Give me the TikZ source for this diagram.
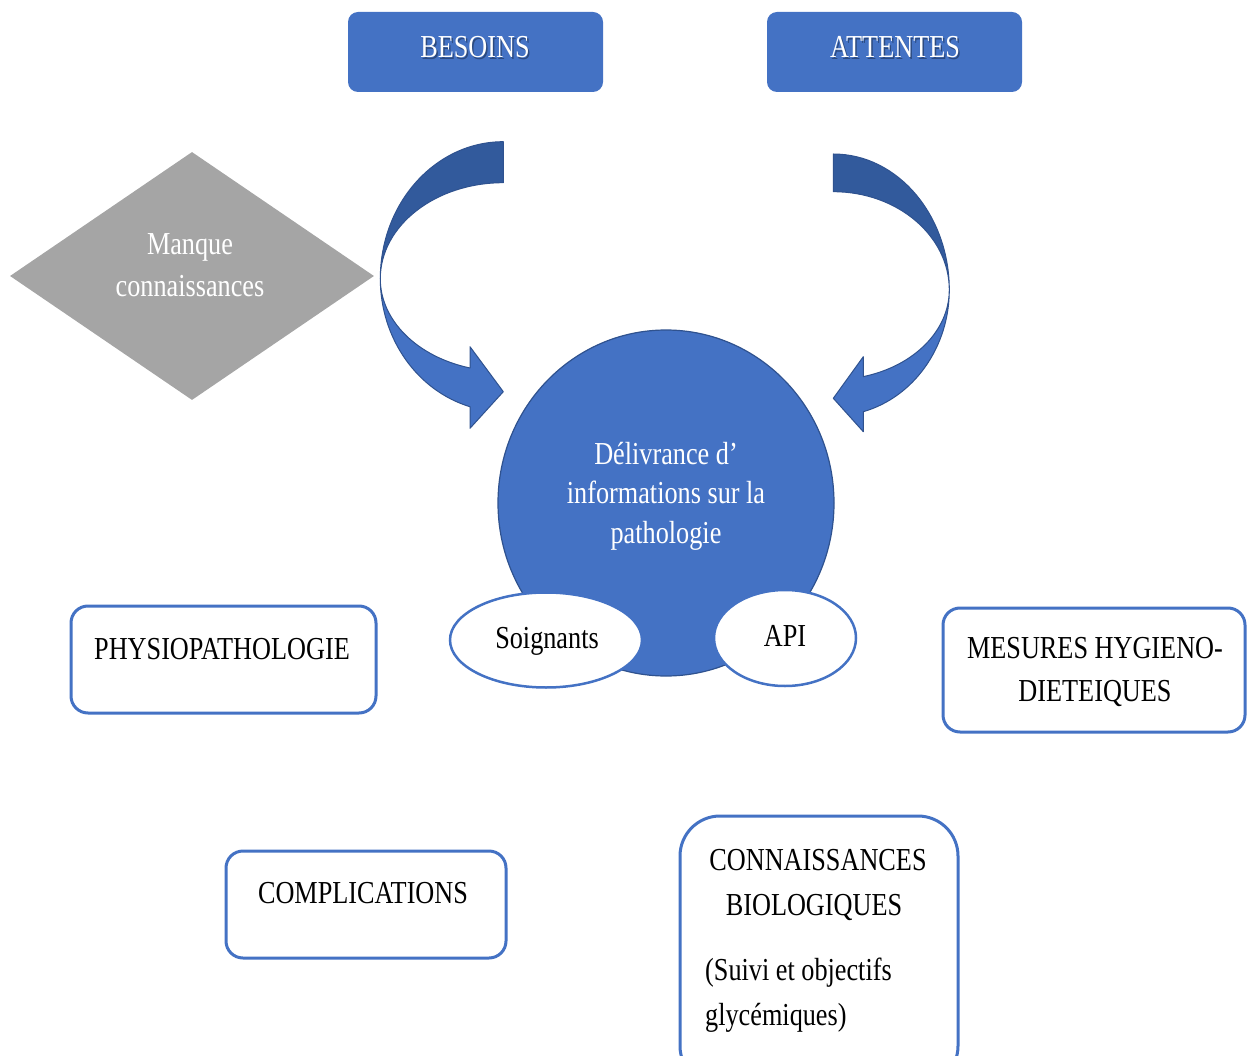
\documentclass[tikz,border=0pt]{standalone}
\usepackage{fontspec}
\setmainfont{Liberation Serif}[FakeStretch=0.82]
\usetikzlibrary{shapes.geometric}
\definecolor{myblue}{HTML}{4472C4}
\definecolor{darkblue}{HTML}{325A9C}
\definecolor{edgeblue}{HTML}{2F528F}
\definecolor{mygray}{HTML}{A5A5A5}
\tikzset{
  txt/.style={font=\fontsize{32}{40}\selectfont, inner sep=0pt, anchor=base},
  wtxt/.style={txt, text=white},
  btxt/.style={txt, text=black},
  shtxt/.style={txt, text=black, opacity=0.35},
  topbox/.style={rectangle, fill=myblue, rounded corners=10pt, inner sep=0pt},
  wbox/.style={rectangle, draw=myblue, line width=3pt, fill=white, rounded corners=17pt, inner sep=0pt},
  oval/.style={ellipse, draw=myblue, line width=2.5pt, fill=white, inner sep=0pt},
  ribbon/.style={draw=edgeblue, line width=1pt, line join=round}
}
\begin{document}
\begin{tikzpicture}[x=1pt,y=-1pt]
\useasboundingbox (0,0) rectangle (1247,1056);
\clip (0,0) rectangle (1247,1056);

% ---- top boxes
\node[topbox, minimum width=255pt, minimum height=80pt] (besoins) at (475.5,52) {};
\node[topbox, minimum width=255pt, minimum height=80pt] (attentes) at (894.5,52) {};
\node[shtxt] (besoins-sh) at (476.5,59.5) {BESOINS};
\node[wtxt] (besoins-t) at (475,58) {BESOINS};
\node[shtxt] (attentes-sh) at (896.5,59.5) {ATTENTES};
\node[wtxt] (attentes-t) at (895,58) {ATTENTES};

% ---- diamond
\node[diamond, fill=mygray, inner sep=0pt, minimum width=364pt, minimum height=248pt, shape aspect=1.468] (manque) at (192,276) {};
\node[wtxt] (manque-t1) at (190,255) {Manque};
\node[wtxt] (manque-t2) at (190,297) {connaissances};

% ---- left curved arrow
\coordinate (lc) at (503.3,278.7);
\filldraw[fill=darkblue, ribbon] (503.3,141.7)
  arc[start angle=270, end angle=180, x radius=123, y radius=137]
  arc[start angle=180, end angle=270, x radius=123, y radius=96] -- cycle;
\filldraw[fill=myblue, ribbon] (380.3,278.7)
  arc[start angle=180, end angle=105.7, x radius=123, y radius=133]
  -- (470,428.3) -- (503.3,391.7) -- (470,346.7) -- (470,368)
  arc[start angle=105.7, end angle=180, x radius=123, y radius=92.8] -- cycle;

% ---- right curved arrow
\filldraw[fill=darkblue, ribbon] (833.3,154)
  arc[start angle=270, end angle=360, x radius=116, y radius=136]
  arc[start angle=0, end angle=-90, x radius=116, y radius=98.3] -- cycle;
\filldraw[fill=myblue, ribbon] (949.3,290)
  arc[start angle=0, end angle=75, x radius=116, y radius=126]
  -- (863.3,431.7) -- (833.3,398.3) -- (863.3,356.7) -- (863.3,376.6)
  arc[start angle=75, end angle=0, x radius=116, y radius=89.7] -- cycle;

% ---- central circle
\node[ellipse, fill=myblue, draw=edgeblue, line width=1.2pt, minimum width=336pt, minimum height=346pt, inner sep=0pt] (deliv) at (666,503) {};
\node[wtxt] (deliv-t1) at (666,464) {Délivrance d’};
\node[wtxt] (deliv-t2) at (666,503) {informations sur la};
\node[wtxt] (deliv-t3) at (666,543) {pathologie};

% ---- ovals
\node[oval, minimum width=192pt, minimum height=95pt] (soign) at (546,640) {};
\node[btxt] (soign-t) at (547,648) {Soignants};
\node[oval, minimum width=142pt, minimum height=96pt] (api) at (785,638) {};
\node[btxt] (api-t) at (785,646) {API};

% ---- white boxes
\node[wbox, minimum width=305pt, minimum height=107pt] (physio) at (223.5,659.5) {};
\node[btxt] (physio-t) at (222,659) {PHYSIOPATHOLOGIE};

\node[wbox, minimum width=302pt, minimum height=124pt] (mesures) at (1094,670) {};
\node[btxt] (mesures-t1) at (1095,658) {MESURES HYGIENO-};
\node[btxt] (mesures-t2) at (1095,701) {DIETEIQUES};

\node[wbox, minimum width=280pt, minimum height=107pt] (compl) at (366,904.5) {};
\node[btxt] (compl-t) at (363,903) {COMPLICATIONS};

\node[wbox, rounded corners=40pt, minimum width=278pt, minimum height=270pt] (bio) at (819,951) {};
\node[btxt] (bio-t1) at (818,870) {CONNAISSANCES};
\node[btxt] (bio-t2) at (814,915) {BIOLOGIQUES};
\node[btxt, anchor=base west] (bio-t3) at (705,980) {(Suivi et objectifs};
\node[btxt, anchor=base west] (bio-t4) at (705,1025) {glycémiques)};
\end{tikzpicture}
\end{document}
